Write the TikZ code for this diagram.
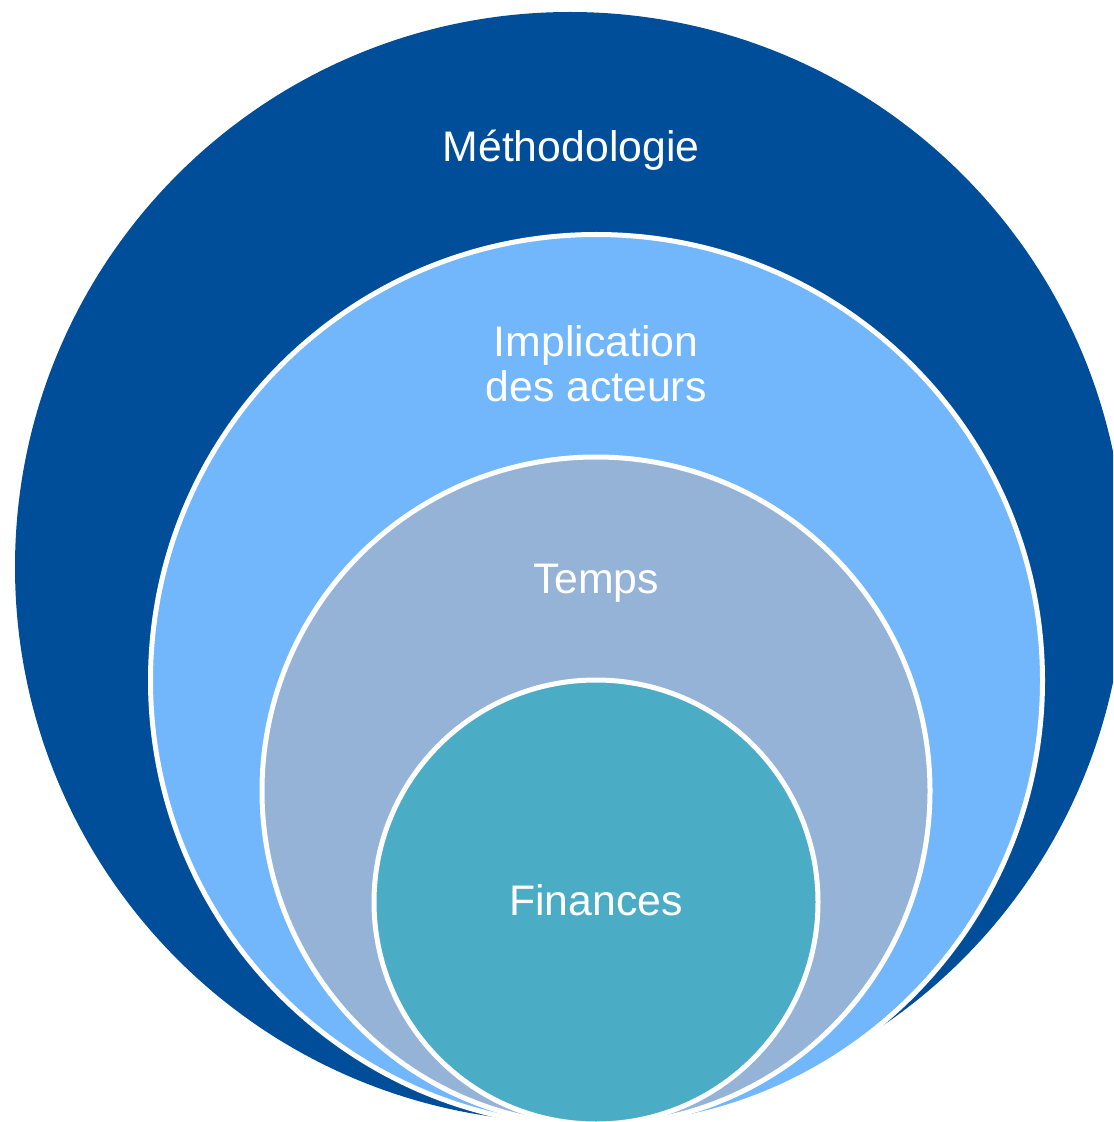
\documentclass[tikz,border=0pt]{standalone}
\usepackage{fontspec}
\setmainfont{Liberation Sans}
\usetikzlibrary{positioning}
\definecolor{methblue}{RGB}{0,78,154}
\definecolor{implblue}{RGB}{114,182,252}
\definecolor{tempsblue}{RGB}{149,179,215}
\definecolor{finteal}{RGB}{75,172,198}
\tikzset{
	ring/.style={circle,inner sep=0,outer sep=0},
	ringwhite/.style={ring,draw=white,line width=5*0.025cm},
	ringlabel/.style={text=white,inner sep=0,outer sep=0,align=center,
		font=\fontsize{30.4}{32.25}\selectfont}
}

\begin{document}
\begin{tikzpicture}[x=0.025cm,y=-0.025cm]
	\path [use as bounding box,clip] (0,0) rectangle (1113,1122);
	% nested circles, tangent at the bottom
	\node [ring,fill=methblue,minimum size=1110*0.025cm] (node_meth) at (570,567) {};
	\node [ringwhite,fill=implblue,minimum size=892*0.025cm] (node_impl) at (596.5,680.5) {};
	\node [ringwhite,fill=tempsblue,minimum size=668*0.025cm] (node_temps) at (596,791) {};
	\node [ringwhite,fill=finteal,minimum size=444*0.025cm] (node_fin) at (596,902) {};
	\node [ringlabel,anchor=base] (label_meth) at (571,162) {Méthodologie};
	\node [ringlabel,anchor=center] (label_impl) at (596,364) {Implication\\des acteurs};
	\node [ringlabel,anchor=base] (label_temps) at (596,593) {Temps};
	\node [ringlabel,anchor=base] (label_fin) at (596,915) {Finances};
\end{tikzpicture}
\end{document}
